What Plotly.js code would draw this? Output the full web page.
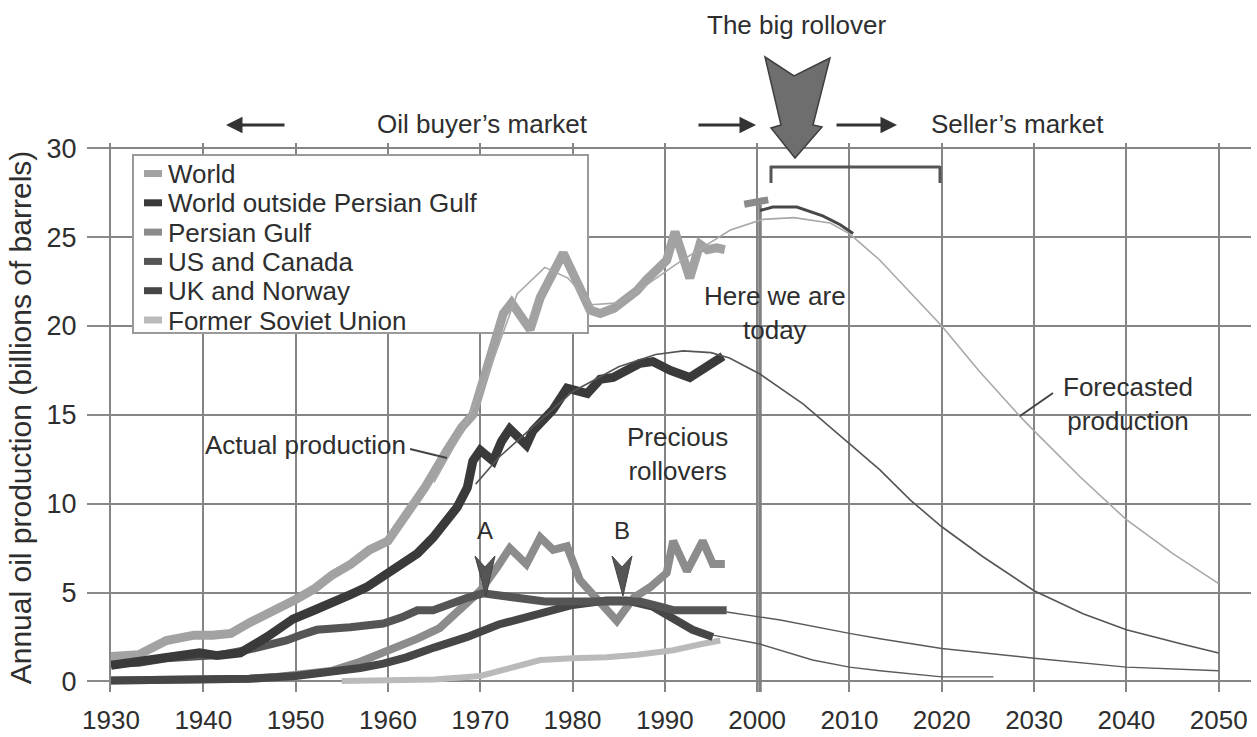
<!DOCTYPE html>
<html><head><meta charset="utf-8">
<script src="https://cdn.plot.ly/plotly-3.0.1.min.js"></script>
<style>html,body{margin:0;padding:0;background:#fff}#chart{width:1257px;height:737px}</style>
</head><body><div id="chart"></div>
<script>
// ---------------- DATA ----------------
const seriesNames = ['World', 'World outside Persian Gulf', 'Persian Gulf', 'US and Canada', 'UK and Norway', 'Former Soviet Union'];

const worldYears  = [1930,1933,1936,1939,1941,1943,1945,1948,1950,1952,1954,1956,1958,1960,1962,1964,1966.4,1968,1969.2,1970,1971.5,1972.5,1973.4,1974.3,1975.4,1976.5,1977.9,1979,1980,1981.9,1983,1984.5,1985.5,1987,1988,1990.2,1991.1,1992.7,1993.8,1994.6,1995.6,1996.5];
const worldValues = [1.4,1.5,2.3,2.6,2.6,2.7,3.3,4.0,4.6,5.2,6.0,6.6,7.4,7.9,9.4,10.9,13.0,14.3,15.0,16.3,19.0,20.7,21.3,20.6,19.8,21.6,23.1,24.1,23.0,20.9,20.7,21.0,21.4,22.0,22.6,23.7,25.3,22.7,24.6,24.3,24.4,24.3];

const wopgYears  = [1930,1933,1936,1939.6,1941.5,1944,1946.9,1949.7,1952,1954,1956,1957.7,1960.2,1962,1963.2,1964.9,1966.7,1967.5,1968.6,1969.2,1970,1971.4,1972.3,1973.2,1975,1975.7,1977.9,1979.4,1981.6,1982.2,1983,1984.4,1986,1987.3,1988.7,1990.6,1992.7,1994.5,1996.3];
const wopgValues = [0.9,1.1,1.35,1.6,1.45,1.6,2.5,3.5,4.0,4.4,4.9,5.3,6.1,6.7,7.2,8.1,9.2,9.8,10.9,12.4,13.0,12.4,13.5,14.2,13.3,14.1,15.3,16.5,16.2,16.5,17.0,17.1,17.6,17.9,18.0,17.5,17.1,17.7,18.3];

const pgYears  = [1930,1935,1940,1945,1948,1951,1954,1957,1959.5,1961.5,1963.2,1965.6,1967.8,1970,1971.8,1973.2,1975,1976.5,1977.9,1979.4,1980.8,1982.6,1984.8,1986.6,1988.4,1990.2,1990.9,1992.4,1994.1,1995.2,1996.5];
const pgValues = [0.05,0.05,0.1,0.15,0.25,0.4,0.6,1.1,1.6,2.0,2.4,3.0,4.0,5.1,6.4,7.5,6.6,8.1,7.4,7.6,5.7,4.7,3.4,4.7,5.3,6.1,7.9,6.2,7.9,6.6,6.6];

const usYears  = [1930,1933,1936,1939,1942,1945,1947,1949,1950.5,1952.3,1955.9,1957.5,1959.5,1961.5,1963.2,1964.9,1966.7,1968.6,1970.3,1972.5,1974.6,1977,1980,1983,1985.5,1987.3,1989.5,1991,1994,1996.7];
const usValues = [1.0,1.05,1.3,1.45,1.5,1.8,2.0,2.3,2.6,2.9,3.05,3.1,3.25,3.6,4.0,4.0,4.4,4.7,4.95,4.8,4.6,4.5,4.5,4.5,4.55,4.5,4.2,4.0,4.0,4.0];

const ukYears  = [1930,1935,1940,1945,1950,1954,1957,1959.5,1962,1965,1968.6,1972,1976.5,1980,1983.7,1985.9,1988.7,1990.9,1993,1995.2];
const ukValues = [0.05,0.05,0.1,0.15,0.3,0.5,0.75,1.0,1.35,1.9,2.5,3.2,3.8,4.3,4.55,4.55,4.2,3.6,2.9,2.5];

const fsuYears  = [1955,1960,1965,1970,1973,1976.5,1980,1983.7,1987,1990.9,1994,1996];
const fsuValues = [0.02,0.05,0.1,0.3,0.7,1.2,1.3,1.35,1.5,1.75,2.1,2.3];

// forecasts (thin lines)
const worldFcYears  = [1965,1968,1971,1974,1977,1979.5,1982,1985,1988,1991,1994,1997.1,2000.6,2004,2007.9,2010,2013.3,2016,2020,2024,2028.5,2030,2035,2040,2045,2050];
const worldFcValues = [11.2,14.0,17.5,21.8,23.3,22.7,21.2,21.3,22.3,23.4,24.4,25.4,26.0,26.1,25.8,25.2,23.7,22.2,20.0,17.5,14.9,14.1,11.5,9.1,7.2,5.5];

const wopgFcYears  = [1969.5,1972,1975,1980,1985,1989,1992,1995,1997,2000.3,2005,2010,2013.3,2016.6,2020,2024.5,2030,2035.3,2040,2046,2050];
const wopgFcValues = [11.1,12.6,14.0,16.3,17.7,18.4,18.6,18.5,18.2,17.3,15.6,13.4,11.9,10.2,8.7,7.0,5.1,3.8,2.9,2.1,1.6];

const usFcYears  = [1996.7,2002.5,2010,2013.3,2020,2030,2040,2050];
const usFcValues = [3.9,3.45,2.7,2.4,1.85,1.3,0.8,0.6];

const ukFcYears  = [1995.2,2000.3,2006,2010,2013.3,2020,2025.6];
const ukFcValues = [2.6,2.1,1.2,0.8,0.6,0.25,0.25];

// high scenario near the big rollover
const highFcYears  = [2000.3,2001.7,2004.3,2007.1,2009,2010.4];
const highFcValues = [26.5,26.7,26.7,26.2,25.7,25.2];
const recentYears  = [1998.6,2001.2];
const recentValues = [26.85,27.1];

const xTickVals = [1930,1940,1950,1960,1970,1980,1990,2000,2010,2020,2030,2040,2050];
const yTickVals = [0,5,10,15,20,25,30];

// ---------------- STYLE / GEOMETRY ----------------
const FONT = 'Liberation Sans, Arial, Helvetica, sans-serif';
const TXT = '#2e2e2e';
const colors = ['#a2a2a2', '#3a3a3a', '#8c8c8c', '#555555', '#464646', '#bababa'];

const L = 111, R = 1251, T = 143, B = 692;
const X0 = 1930, X1 = 2053.5, Y0 = -0.6, Y1 = 30.3;
const px = x => (x - L) / (R - L);
const py = y => (B - y) / (B - T);
const dx = x => X0 + (x - L) * (X1 - X0) / (R - L);
const dy = y => Y0 + (B - y) * (Y1 - Y0) / (B - T);
const pathP = pts => 'M' + pts.map(p => px(p[0]).toFixed(5) + ',' + py(p[1]).toFixed(5)).join('L') + 'Z';

function thick(x, y, color, w, name) {
  return {type: 'scatter', mode: 'lines', x: x, y: y, name: name, showlegend: false,
          line: {color: color, width: w, shape: 'linear'}, hoverinfo: 'x+y+name'};
}

const traces = [
  thick(fsuYears, fsuValues, colors[5], 6, seriesNames[5]),
  thick(pgYears, pgValues, colors[2], 8, seriesNames[2]),
  thick(ukYears, ukValues, colors[4], 8, seriesNames[4]),
  thick(usYears, usValues, colors[3], 8, seriesNames[3]),
  thick(worldYears, worldValues, colors[0], 9, seriesNames[0]),
  thick(wopgYears, wopgValues, colors[1], 9, seriesNames[1]),
  thick(recentYears, recentValues, '#8a8a8a', 7, 'World (recent)'),
  thick(worldFcYears, worldFcValues, '#a8a8a8', 1.6, 'World forecast'),
  thick(wopgFcYears, wopgFcValues, '#555555', 1.6, 'World outside Persian Gulf forecast'),
  thick(usFcYears, usFcValues, '#5a5a5a', 1.4, 'US and Canada forecast'),
  thick(ukFcYears, ukFcValues, '#5a5a5a', 1.4, 'UK and Norway forecast'),
  thick(highFcYears, highFcValues, '#484848', 3, 'High forecast')
];

// ---------------- ANNOTATIONS ----------------
const ann = [];
function txt(text, x, y, size, xanchor) {
  ann.push({text: text, xref: 'paper', yref: 'paper', x: px(x), y: py(y), showarrow: false,
            xanchor: xanchor || 'center', yanchor: 'middle', font: {family: FONT, size: size || 26, color: TXT}});
}
function arrow(x0, y0, x1, y1) {
  ann.push({text: '', xref: 'paper', yref: 'paper', x: px(x1), y: py(y1), ax: x0 - x1, ay: y0 - y1,
            showarrow: true, arrowhead: 2, arrowsize: 1.1, arrowwidth: 3, arrowcolor: '#333'});
}
txt('The big rollover', 797, 25);
txt('Oil buyer\u2019s market', 482, 124);
txt('Seller\u2019s market', 1017, 124);
arrow(286, 125, 226, 125);
arrow(697, 125, 756, 125);
arrow(835, 125, 897, 125);
txt('Here we are<br>today', 775, 313);
txt('Actual production', 305, 445);
txt('Precious<br>rollovers', 677, 454);
txt('Forecasted<br>production', 1128, 404);
txt('A', 485, 530, 24);
txt('B', 622, 530, 24);

// legend (manual, compact like the original)
const shapes = [];
shapes.push({type: 'rect', xref: 'x', yref: 'y', layer: 'between',
             x0: dx(133), x1: dx(588), y0: dy(155), y1: dy(333),
             fillcolor: '#ffffff', line: {color: '#9a9a9a', width: 2}});
seriesNames.forEach((n, i) => {
  const ry = 174 + i * 29.3;
  shapes.push({type: 'rect', xref: 'paper', yref: 'paper', layer: 'above',
               x0: px(144), x1: px(162), y0: py(ry - 4), y1: py(ry + 3),
               fillcolor: colors[i], line: {width: 0}});
  txt(n, 166, ry, 26, 'left');
});

// today line
shapes.push({type: 'line', xref: 'x', yref: 'y', layer: 'between',
             x0: dx(760), x1: dx(760), y0: Y0, y1: dy(205), line: {color: '#808080', width: 3.5}});
// bracket
[[770,167,940,167],[771,166,771,183],[940,166,940,183]].forEach(s => {
  shapes.push({type: 'line', xref: 'paper', yref: 'paper', layer: 'above',
               x0: px(s[0]), y0: py(s[1]), x1: px(s[2]), y1: py(s[3]), line: {color: '#555', width: 3}});
});
// leader lines
[[410,449,447,458],[1053,393,1020,416]].forEach(s => {
  shapes.push({type: 'line', xref: 'paper', yref: 'paper', layer: 'above',
               x0: px(s[0]), y0: py(s[1]), x1: px(s[2]), y1: py(s[3]), line: {color: '#444', width: 2}});
});
// big rollover arrow
shapes.push({type: 'path', xref: 'paper', yref: 'paper', layer: 'above',
             path: pathP([[765,57],[794,76],[830,58],[813,125],[822,127],[795,158],[771,128],[781,125]]),
             fillcolor: '#6e6e6e', line: {color: '#3e3e3e', width: 1.5}});
// A and B arrows
[485, 622].forEach(cx => {
  shapes.push({type: 'path', xref: 'paper', yref: 'paper', layer: 'above',
               path: pathP([[cx-10,556],[cx,567],[cx+10,556],[cx+5,578],[cx+1,596],[cx-4,578]]),
               fillcolor: '#555', line: {color: '#444', width: 1}});
});

const layout = {
  width: 1257, height: 737,
  margin: {l: L, r: 1257 - R, t: T, b: 737 - B, pad: 0},
  paper_bgcolor: '#ffffff', plot_bgcolor: '#ffffff',
  font: {family: FONT, color: TXT},
  showlegend: false,
  xaxis: {range: [X0, X1], tickvals: xTickVals, ticktext: xTickVals.map(String),
          showgrid: true, gridcolor: '#858585', gridwidth: 2, zeroline: false, showline: false,
          ticks: 'outside', ticklen: 5, tickcolor: 'rgba(0,0,0,0)',
          tickfont: {family: FONT, size: 26, color: TXT}, fixedrange: true},
  yaxis: {range: [Y0, Y1], tickvals: yTickVals, ticktext: yTickVals.map(String),
          showgrid: true, gridcolor: '#858585', gridwidth: 2, zeroline: false,
          showline: true, linecolor: '#858585', linewidth: 2,
          ticks: 'outside', ticklen: 22, tickwidth: 2, tickcolor: '#8a8a8a', ticklabelstandoff: 5,
          tickfont: {family: FONT, size: 27, color: TXT},
          title: {text: 'Annual oil production (billions of barrels)', standoff: 6,
                  font: {family: FONT, size: 30, color: TXT}}, fixedrange: true},
  annotations: ann,
  shapes: shapes
};

Plotly.newPlot('chart', traces, layout, {displayModeBar: false, staticPlot: true});
</script>
</body></html>
